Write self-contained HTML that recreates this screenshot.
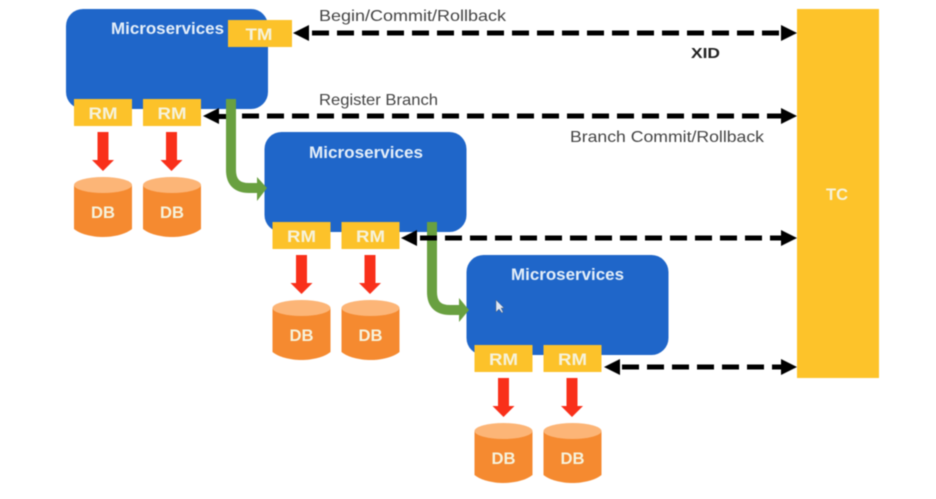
<!DOCTYPE html>
<html><head><meta charset="utf-8"><style>
html,body{margin:0;padding:0;background:#fff;width:936px;height:499px;overflow:hidden}
svg{display:block;filter:blur(.6px)}
text{font-family:"Liberation Sans",sans-serif}
.w{fill:#f6f3dc;font-weight:bold;font-size:17px;text-anchor:middle}
.m{fill:#e4eef8;font-weight:bold;font-size:16.5px}
.l{fill:#444;font-size:16px}
</style></head><body>
<svg width="936" height="499" viewBox="0 0 936 499" xmlns="http://www.w3.org/2000/svg">
<defs>
<g id="db">
<path d="M0 8V52C6 57 18 60 29 60S52 57 58 52V8Z" fill="#f58a30"/>
<ellipse cx="29" cy="8" rx="29" ry="8" fill="#fcb577"/>
<text x="29" y="41" class="w" textLength="24" lengthAdjust="spacingAndGlyphs">DB</text>
</g>
<g id="red"><path d="M-5.5 0H5.5V28H11L0 39L-11 28H-5.5Z" fill="#f9301a"/></g>
<g id="rm"><rect x="0" y="90" width="58" height="27" fill="#fcc22a"/><text x="29" y="110" class="w" textLength="29" lengthAdjust="spacingAndGlyphs">RM</text></g>
<g id="set">
<rect x="0" y="0" width="202" height="100" rx="17" fill="#1f66c9"/>
<use href="#rm" x="8"/>
<use href="#rm" x="77"/>
<use href="#red" x="37" y="123"/>
<use href="#red" x="105.500" y="123"/>
<use href="#db" x="8" y="168"/>
<use href="#db" x="77" y="168"/>
</g>
</defs>

<use href="#set" x="66" y="9"/>
<use href="#set" x="264.500" y="132"/>
<use href="#set" x="466.500" y="255"/>

<text x="111" y="34" class="m" textLength="113" lengthAdjust="spacingAndGlyphs">Microservices</text>
<text x="309" y="158" class="m" textLength="114" lengthAdjust="spacingAndGlyphs">Microservices</text>
<text x="511" y="280" class="m" textLength="113" lengthAdjust="spacingAndGlyphs">Microservices</text>

<rect x="228" y="20" width="64" height="27" fill="#fcc22a"/>
<text x="259" y="40" class="w" textLength="27" lengthAdjust="spacingAndGlyphs">TM</text>

<rect x="797" y="9" width="82" height="369" fill="#fdc32a"/>
<text x="837" y="200" class="w" textLength="22" lengthAdjust="spacingAndGlyphs">TC</text>

<g fill="none" stroke="#69a040" stroke-width="10">
<path d="M231 99V170Q231 188 249 188H258"/>
<path d="M432 222V292Q432 310 450 310H460"/>
</g>
<path d="M257 177L267 188L257 201Z" fill="#69a040"/>
<path d="M459 298L469 310L459 322Z" fill="#69a040"/>
<path d="M496 300L496 312L499 309L502 313L503 312L501 308L504 308Z" fill="#dfe7f4" stroke="#555" stroke-width=".4"/>

<g stroke="#000" stroke-width="5" stroke-dasharray="17 8" fill="none">
<path d="M312 33H782"/>
<path d="M242 116H782"/>
<path d="M420 238H782"/>
<path d="M622 367H782"/>
</g>
<g fill="#000">
<path d="M293 33L309 25V41Z"/><path d="M797 33L781 25V41Z"/>
<path d="M203 116L219 108V124Z"/><path d="M797 116L781 108V124Z"/><rect x="219" y="114" width="7" height="5"/>
<path d="M401 238L417 230V246Z"/><path d="M797 238L781 230V246Z"/>
<path d="M604 367L620 359V375Z"/><path d="M797 367L781 359V375Z"/>
</g>

<text x="319" y="21" class="l" textLength="187" lengthAdjust="spacingAndGlyphs">Begin/Commit/Rollback</text>
<text x="691" y="58" fill="#222" font-size="15" font-weight="bold" textLength="29" lengthAdjust="spacingAndGlyphs">XID</text>
<text x="319" y="105" class="l" textLength="119" lengthAdjust="spacingAndGlyphs">Register Branch</text>
<text x="570" y="142" class="l" textLength="194" lengthAdjust="spacingAndGlyphs">Branch Commit/Rollback</text>
</svg>
</body></html>
